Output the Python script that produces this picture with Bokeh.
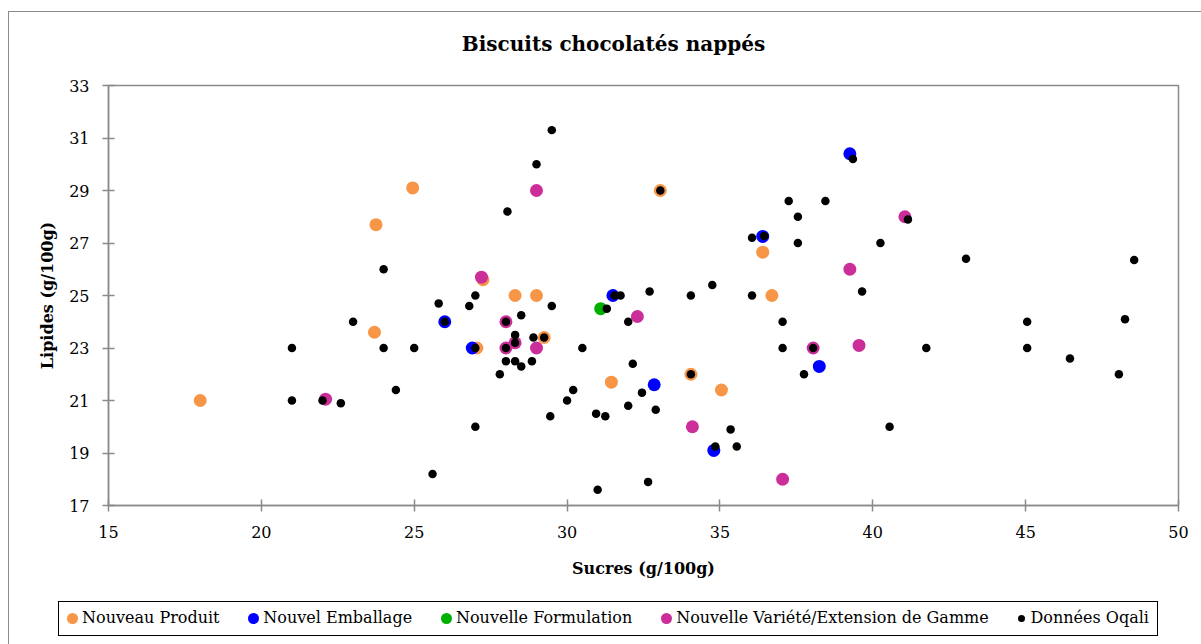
from bokeh.plotting import figure
from bokeh.layouts import column
from bokeh.models import (ColumnDataSource, FixedTicker, Range1d, Label, Div)
from bokeh.embed import file_html
from bokeh.resources import INLINE

title_text = "Biscuits chocolatés nappés"
x_label = "Sucres (g/100g)"
y_label = "Lipides (g/100g)"

x_ticks = [15, 20, 25, 30, 35, 40, 45, 50]
y_ticks = [17, 19, 21, 23, 25, 27, 29, 31, 33]

np_sucres = [23.75, 18.0, 23.7, 24.95, 33.05, 27.25, 28.3, 29.0, 29.25, 27.05, 31.45, 36.4, 36.7, 34.05, 35.05]
np_lipides = [27.7, 21.0, 23.6, 29.1, 29.0, 25.6, 25.0, 25.0, 23.4, 23.0, 21.7, 26.65, 25.0, 22.0, 21.4]

ne_sucres = [26.0, 26.9, 31.5, 32.85, 36.4, 39.25, 38.25, 34.8]
ne_lipides = [24.0, 23.0, 25.0, 21.6, 27.25, 30.4, 22.3, 19.1]

nf_sucres = [31.1]
nf_lipides = [24.5]

nv_sucres = [22.1, 29.0, 27.2, 28.0, 28.3, 28.0, 29.0, 32.3, 41.05, 39.25, 38.05, 39.55, 34.1, 37.05]
nv_lipides = [21.05, 29.0, 25.7, 24.0, 23.2, 23.0, 23.0, 24.2, 28.0, 26.0, 23.0, 23.1, 20.0, 18.0]

oq_sucres = [24.0, 23.0, 21.0, 24.0, 24.4, 21.0, 22.0, 22.6,
             29.5, 29.0, 33.05, 28.05, 27.0, 31.55, 31.75, 32.7,
             25.8, 26.8, 29.5, 31.3, 32.0, 26.0, 28.0, 28.5,
             28.3, 28.3, 28.9, 29.25, 27.0, 25.0, 28.0, 30.5,
             28.0, 28.3, 28.5, 28.85, 27.8, 32.15, 30.2, 30.0,
             32.45, 32.0, 32.9, 30.95, 31.25, 29.45, 27.0, 25.6,
             31.0, 32.65,
             39.35, 37.25, 38.45, 37.55, 41.15, 36.45, 36.05, 37.55, 40.25, 34.75, 34.05, 36.05, 39.65,
             37.05, 37.05, 38.05, 41.75, 37.75, 34.05, 35.35, 34.85, 35.55, 40.55,
             43.05, 48.55, 45.05, 48.25, 45.05, 46.45, 48.05]
oq_lipides = [26.0, 24.0, 23.0, 23.0, 21.4, 21.0, 21.0, 20.9,
              31.3, 30.0, 29.0, 28.2, 25.0, 25.0, 25.0, 25.15,
              24.7, 24.6, 24.6, 24.5, 24.0, 24.0, 24.0, 24.25,
              23.5, 23.2, 23.4, 23.4, 23.0, 23.0, 23.0, 23.0,
              22.5, 22.5, 22.3, 22.5, 22.0, 22.4, 21.4, 21.0,
              21.3, 20.8, 20.65, 20.5, 20.4, 20.4, 20.0, 18.2,
              17.6, 17.9,
              30.2, 28.6, 28.6, 28.0, 27.9, 27.27, 27.2, 27.0, 27.0, 25.4, 25.0, 25.0, 25.15,
              24.0, 23.0, 23.0, 23.0, 22.0, 22.0, 19.9, 19.25, 19.25, 20.0,
              26.4, 26.35, 24.0, 24.1, 23.0, 22.6, 22.0]

series_names = ["Nouveau Produit", "Nouvel Emballage", "Nouvelle Formulation",
                "Nouvelle Variété/Extension de Gamme", "Données Oqali"]
series_colors = ["#F79646", "#0000FF", "#00B000", "#CC2E99", "#000000"]

FONT = "DejaVu Serif"
GRAY = "#8a8a8a"
W = 1184

# ---- title strip
pt = figure(width=W, height=48, output_backend="svg", toolbar_location=None,
            x_range=Range1d(0, 1), y_range=Range1d(0, 1),
            x_axis_type=None, y_axis_type=None,
            min_border_left=0, min_border_right=0, min_border_top=0, min_border_bottom=0)
pt.outline_line_color = None
pt.grid.visible = False
pt.add_layout(Label(x=505, y=17, x_units="screen", y_units="screen", text=title_text,
                    text_font=FONT, text_font_size="20px", text_font_style="bold",
                    text_align="center", text_baseline="middle", text_color="black"))

# ---- main scatter
p = figure(width=W, height=536, output_backend="svg", toolbar_location=None,
           x_range=Range1d(15, 50), y_range=Range1d(17, 33),
           min_border_left=99, min_border_right=15, min_border_top=25, min_border_bottom=91)
p.background_fill_color = "white"
p.border_fill_color = "white"
p.outline_line_color = GRAY
p.outline_line_width = 1.5
p.xgrid.visible = False
p.ygrid.visible = False

for ax in (p.xaxis[0], p.yaxis[0]):
    ax.axis_line_color = GRAY
    ax.axis_line_width = 1.5
    ax.major_tick_line_color = GRAY
    ax.major_tick_line_width = 1.5
    ax.major_tick_in = 6
    ax.major_tick_out = 6
    ax.minor_tick_line_color = None
    ax.major_label_text_font = FONT
    ax.major_label_text_font_size = "16px"
    ax.major_label_text_color = "black"
    ax.axis_label_text_font = FONT
    ax.axis_label_text_font_size = "16px"
    ax.axis_label_text_font_style = "bold"
    ax.axis_label_text_color = "black"

p.xaxis[0].ticker = FixedTicker(ticks=x_ticks)
p.yaxis[0].ticker = FixedTicker(ticks=y_ticks)
p.xaxis[0].axis_label = x_label
p.yaxis[0].axis_label = y_label
p.xaxis[0].major_label_standoff = 14
p.yaxis[0].major_label_standoff = 13
p.xaxis[0].axis_label_standoff = 18
p.yaxis[0].axis_label_standoff = 9

sets = [(np_sucres, np_lipides), (ne_sucres, ne_lipides), (nf_sucres, nf_lipides),
        (nv_sucres, nv_lipides), (oq_sucres, oq_lipides)]
for i, (xs, ys) in enumerate(sets):
    src = ColumnDataSource(dict(x=xs, y=ys))
    size = 8.5 if i == 4 else 13
    p.scatter("x", "y", source=src, size=size, fill_color=series_colors[i],
              line_color=None, marker="circle")


# ---- legend strip (HTML)
def legend_entry(name, color, big):
    d = 11 if big else 7
    mr = 4 if big else 6
    return ('<span style="display:inline-flex;align-items:center;">'
            f'<span style="display:inline-block;width:{d}px;height:{d}px;border-radius:50%;'
            f'background:{color};margin-right:{mr}px;"></span>{name}</span>')


entries = "".join(legend_entry(series_names[i], series_colors[i], i < 4) for i in range(5))
legend_html = ('<div style="margin:0 0 0 44px;width:1100px;height:35px;box-sizing:border-box;'
               'border:1px solid #000;display:flex;align-items:center;'
               'justify-content:space-between;padding:0 8px;'
               'font-family:DejaVu Serif, serif;font-size:16px;color:#000;background:#fff;'
               f'white-space:nowrap;">{entries}</div>')
leg = Div(text=legend_html, width=W, height=46)

layout = column(pt, p, leg, spacing=0,
                styles={"margin-left": "8px", "margin-top": "11px",
                        "border-left": "1px solid #8c8c8c",
                        "border-top": "1px solid #8c8c8c",
                        "border-right": "1px solid #8c8c8c"})

open("out.html", "w").write(file_html(layout, INLINE))
